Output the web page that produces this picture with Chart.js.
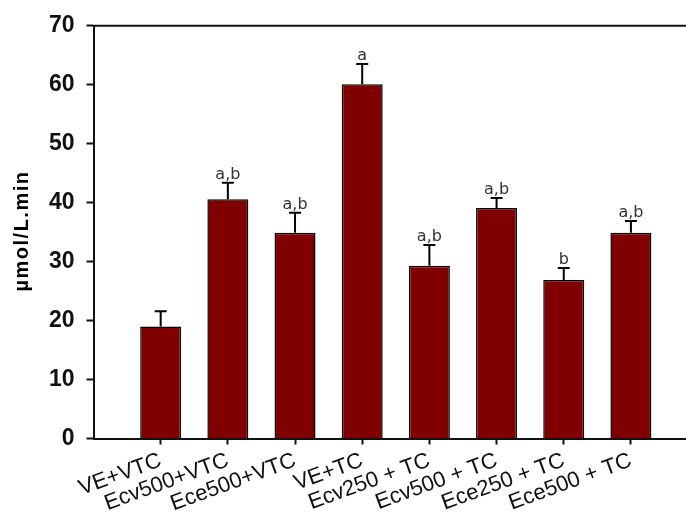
<!DOCTYPE html>
<html>
<head>
<meta charset="utf-8">
<script src="https://cdn.jsdelivr.net/npm/chart.js@4"></script>
<style>
html,body{margin:0;padding:0;background:#fff;overflow:hidden;}
canvas{display:block;}
</style>
</head>
<body>
<canvas id="c" width="686" height="517"></canvas>
<script>
const categories = ['VE+VTC','Ecv500+VTC','Ece500+VTC','VE+TC','Ecv250 + TC','Ecv500 + TC','Ece250 + TC','Ece500 + TC'];
const means = [19.0, 40.6, 34.9, 60.1, 29.3, 39.1, 26.9, 34.9];
const errors = [2.6, 2.8, 3.4, 3.4, 3.5, 1.7, 2.0, 2.0];
const sigLabels = ['', 'a,b', 'a,b', 'a', 'a,b', 'a,b', 'b', 'a,b'];
const yTicks = [0, 10, 20, 30, 40, 50, 60, 70];
const yTitle = 'µmol/L.min';

const points = means.map((v, i) => ({x: i + 1, y: v}));

const errorBarPlugin = {
  id: 'errorBars',
  afterDatasetsDraw(chart) {
    const ctx = chart.ctx;
    const meta = chart.getDatasetMeta(0);
    const ys = chart.scales.y;
    ctx.save();
    meta.data.forEach((bar, i) => {
      const top = ys.getPixelForValue(means[i] + errors[i]);
      const x = bar.x;
      ctx.strokeStyle = '#000';
      ctx.lineWidth = 2;
      ctx.beginPath();
      ctx.moveTo(x, bar.y);
      ctx.lineTo(x, top);
      ctx.moveTo(x - 6, top);
      ctx.lineTo(x + 6, top);
      ctx.stroke();
      if (sigLabels[i]) {
        ctx.fillStyle = '#333';
        ctx.font = '16px "DejaVu Sans"';
        ctx.textAlign = 'center';
        ctx.textBaseline = 'alphabetic';
        ctx.fillText(sigLabels[i], x, top - 4);
      }
    });
    ctx.restore();
  },
  afterDraw(chart) {
    const ctx = chart.ctx;
    const a = chart.chartArea;
    ctx.save();
    ctx.strokeStyle = '#111';
    ctx.lineWidth = 2;
    ctx.beginPath();
    ctx.moveTo(a.left, a.top);
    ctx.lineTo(chart.width, a.top);
    ctx.stroke();
    // y axis title
    ctx.translate(22, 231);
    ctx.rotate(-Math.PI / 2);
    ctx.fillStyle = '#000';
    ctx.font = 'bold 20px "Liberation Sans", Arial, sans-serif';
    ctx.textAlign = 'center';
    ctx.textBaseline = 'middle';
    try { ctx.letterSpacing = '1.5px'; } catch (e) {}
    ctx.fillText(yTitle, 0, 0);
    ctx.restore();
  }
};

new Chart(document.getElementById('c'), {
  type: 'bar',
  data: {
    datasets: [{
      data: points,
      backgroundColor: '#800000',
      borderColor: '#000',
      borderWidth: 1.5,
      barPercentage: 0.61,
      categoryPercentage: 1.0
    }]
  },
  options: {
    responsive: false,
    animation: false,
    layout: {padding: {top: 25.7, right: 0, bottom: 0, left: 0}},
    plugins: {legend: {display: false}, tooltip: {enabled: false}},
    scales: {
      x: {
        type: 'linear',
        min: 0,
        max: 8.82,
        offset: false,
        afterBuildTicks(scale) {
          scale.ticks = categories.map((_, i) => ({value: i + 1}));
        },
        afterFit(scale) { scale.height = 78.5; },
        grid: {offset: false, drawOnChartArea: false, drawTicks: true, tickLength: 6, tickColor: '#111', tickWidth: 2},
        border: {display: true, color: '#111', width: 2},
        ticks: {
          autoSkip: false,
          minRotation: 20,
          maxRotation: 20,
          padding: 3,
          color: '#111',
          font: {family: '"Liberation Sans", Arial, sans-serif', size: 22},
          callback: (v) => categories[Math.round(v) - 1] || ''
        }
      },
      y: {
        min: 0,
        max: 70,
        afterBuildTicks(scale) {
          scale.ticks = yTicks.map(v => ({value: v}));
        },
        afterFit(scale) { scale.width = 93.5; },
        grid: {drawOnChartArea: false, drawTicks: true, tickLength: 7, tickColor: '#111', tickWidth: 2},
        border: {display: true, color: '#111', width: 2},
        ticks: {
          padding: 12,
          color: '#111',
          font: {family: '"Liberation Sans", Arial, sans-serif', size: 23, weight: 'bold'}
        }
      }
    }
  },
  plugins: [errorBarPlugin]
});
</script>
</body>
</html>
